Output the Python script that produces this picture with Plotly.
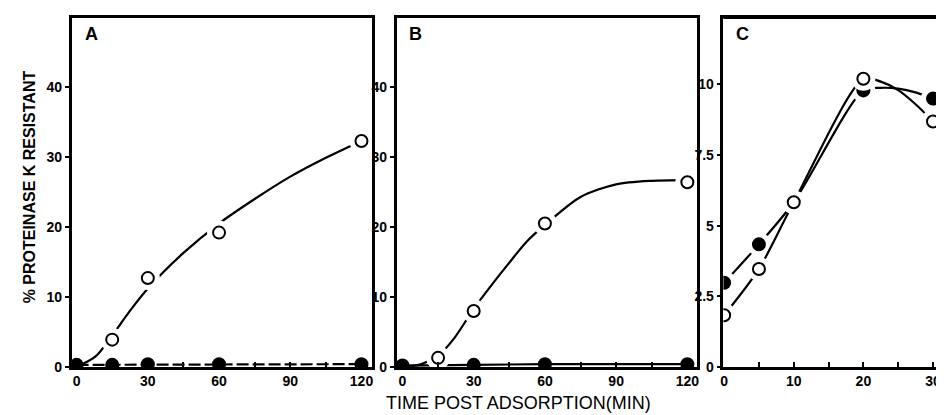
import plotly.graph_objects as go

# ---------------- data ----------------
# Panel A
a_open_x = [15, 30, 60, 120]
a_open_y = [3.9, 12.7, 19.2, 32.3]
a_open_curve_x = [0, 8, 15, 22, 30, 45, 60, 75, 90, 105, 120]
a_open_curve_y = [0, 1.5, 4.5, 7.8, 11.2, 16.3, 20.5, 24.0, 27.2, 29.9, 32.3]
a_closed_x = [0, 15, 30, 60, 120]
a_closed_y = [0.3, 0.3, 0.4, 0.4, 0.4]

# Panel B
b_open_x = [15, 30, 60, 120]
b_open_y = [1.3, 8.0, 20.5, 26.4]
b_open_curve_x = [0, 8, 15, 22, 30, 38, 45, 52, 60, 75, 90, 105, 120]
b_open_curve_y = [0, 0.4, 1.6, 4.2, 8.3, 11.9, 14.9, 17.8, 20.3, 24.3, 26.1, 26.6, 26.7]
b_closed_x = [0, 15, 30, 60, 120]
b_closed_y = [0.2, 0.3, 0.3, 0.4, 0.4]

# Panel C
c_open_x = [0, 5, 10, 20, 30]
c_open_y = [1.83, 3.47, 5.83, 10.2, 8.69]
c_open_curve_x = [0, 5, 10, 20, 22.5, 25, 27.5, 30]
c_open_curve_y = [1.83, 3.47, 5.83, 10.2, 10.1, 9.8, 9.3, 8.69]
c_closed_x = [0, 5, 10, 20, 30]
c_closed_y = [2.98, 4.34, 5.83, 9.79, 9.5]
c_closed_curve_x = [0, 5, 10, 20, 22.5, 25, 27.5, 30]
c_closed_curve_y = [2.98, 4.34, 5.83, 9.79, 9.88, 9.85, 9.72, 9.5]

ab_xticks = [0, 30, 60, 90, 120]
ab_yticks = [0, 10, 20, 30, 40]
c_xticks = [0, 10, 20, 30]
c_yticks = [0, 2.5, 5, 7.5, 10]
c_yticklabels = ["0", "2.5", "5", "7.5", "10"]

panel_labels = ["A", "B", "C"]
y_title = "% PROTEINASE K RESISTANT"
x_title = "TIME POST ADSORPTION(MIN)"

# ---------------- figure ----------------
W, H = 944, 415
fig = go.Figure()

def px_x(p):
    return p / W

def px_y(p):
    return 1 - p / H

top_px, bot_px = 10, 366
ydom = [px_y(bot_px), px_y(top_px)]

def add_series(xa, ya, lx, ly, mx, my, filled, dash="solid", shape="spline", halo=True):
    fig.add_trace(go.Scatter(x=lx, y=ly, mode="lines", xaxis=xa, yaxis=ya,
                             line=dict(color="black", width=2.2, dash=dash, shape=shape,
                                       smoothing=0.8 if shape == "spline" else None),
                             hoverinfo="skip", showlegend=False))
    if halo:
        fig.add_trace(go.Scatter(x=mx, y=my, mode="markers", xaxis=xa, yaxis=ya,
                                 marker=dict(size=24, color="white", line=dict(width=0)),
                                 hoverinfo="skip", showlegend=False))
    fig.add_trace(go.Scatter(x=mx, y=my, mode="markers", xaxis=xa, yaxis=ya,
                             marker=dict(size=12,
                                         color="black" if filled else "white",
                                         line=dict(color="black", width=2)),
                             showlegend=False))

# Panel A
add_series("x", "y", a_closed_x, a_closed_y, a_closed_x, a_closed_y, True,
           dash="12px,4px", shape="linear", halo=False)
add_series("x", "y", a_open_curve_x, a_open_curve_y, a_open_x, a_open_y, False)
# Panel B
add_series("x2", "y2", b_closed_x, b_closed_y, b_closed_x, b_closed_y, True,
           shape="linear", halo=False)
add_series("x2", "y2", b_open_curve_x, b_open_curve_y, b_open_x, b_open_y, False)
# Panel C
add_series("x3", "y3", c_closed_curve_x, c_closed_curve_y, c_closed_x, c_closed_y, True)
add_series("x3", "y3", c_open_curve_x, c_open_curve_y, c_open_x, c_open_y, False)

tickfont = dict(family="Liberation Sans", size=14, color="black")

def bold(vals):
    return ["<b>%s</b>" % v for v in vals]

def xaxis(dom, rng, tickvals, minor_dtick, mirror=True):
    return dict(domain=dom, range=rng, tickvals=tickvals, ticktext=bold(tickvals),
                ticks="inside", ticklen=5, tickwidth=2, tickcolor="black",
                minor=dict(dtick=minor_dtick, ticks="inside", ticklen=5, tickwidth=2,
                           tickcolor="black", tick0=0),
                showline=True, linewidth=2.5, linecolor="black", mirror=mirror,
                showgrid=False, zeroline=False, tickfont=tickfont, fixedrange=True,
                ticklabeloverflow="allow")

def yaxis(anchor, rng, tickvals, ticktext, mirror=True):
    return dict(domain=ydom, range=rng, anchor=anchor, tickvals=tickvals, ticktext=bold(ticktext),
                ticks="outside", ticklen=4, tickwidth=2, tickcolor="black",
                showline=True, linewidth=2.5, linecolor="black", mirror=mirror,
                showgrid=False, zeroline=False, tickfont=tickfont, fixedrange=True,
                ticklabeloverflow="allow")

fig.update_layout(
    width=W, height=H,
    margin=dict(l=0, r=0, t=0, b=0),
    paper_bgcolor="white", plot_bgcolor="white",
    font=dict(family="Liberation Sans", color="black"),
    xaxis=xaxis([px_x(61), px_x(363)], [-2.1, 124.3], ab_xticks, 15),
    yaxis=yaxis("x", [0, 49.9], ab_yticks, ab_yticks),
    xaxis2=xaxis([px_x(388), px_x(690)], [-2.5, 123.9], ab_xticks, 15),
    yaxis2=yaxis("x2", [0, 49.9], ab_yticks, ab_yticks),
    xaxis3=xaxis([px_x(717), 1.0], [-0.1, 32.3], c_xticks, 5),
    yaxis3=yaxis("x3", [0, 12.36], c_yticks, c_yticklabels, mirror=False),
)
fig.layout.xaxis.anchor = "y"
fig.layout.xaxis2.anchor = "y2"
fig.layout.xaxis3.anchor = "y3"

# top border for panel C (right edge cut off)
fig.add_shape(type="line", xref="paper", yref="paper", x0=px_x(717), x1=1.0,
              y0=ydom[1], y1=ydom[1], line=dict(color="black", width=2.5))

for lab, xp in zip(panel_labels, [72, 399, 728]):
    fig.add_annotation(text="<b>%s</b>" % lab, xref="paper", yref="paper",
                       x=px_x(xp), y=px_y(27), xanchor="left", yanchor="middle",
                       showarrow=False, font=dict(family="Liberation Sans", size=18, color="black"))

fig.add_annotation(text="<b>%s</b>" % y_title, xref="paper", yref="paper",
                   x=px_x(19), y=px_y(182), textangle=-90, showarrow=False,
                   xanchor="center", yanchor="middle",
                   font=dict(family="Liberation Sans", size=16, color="black"))
fig.add_annotation(text=x_title, xref="paper", yref="paper",
                   x=px_x(511), y=px_y(403), showarrow=False,
                   xanchor="center", yanchor="middle",
                   font=dict(family="Liberation Sans", size=18, color="black"))

fig.write_html("out.html")
